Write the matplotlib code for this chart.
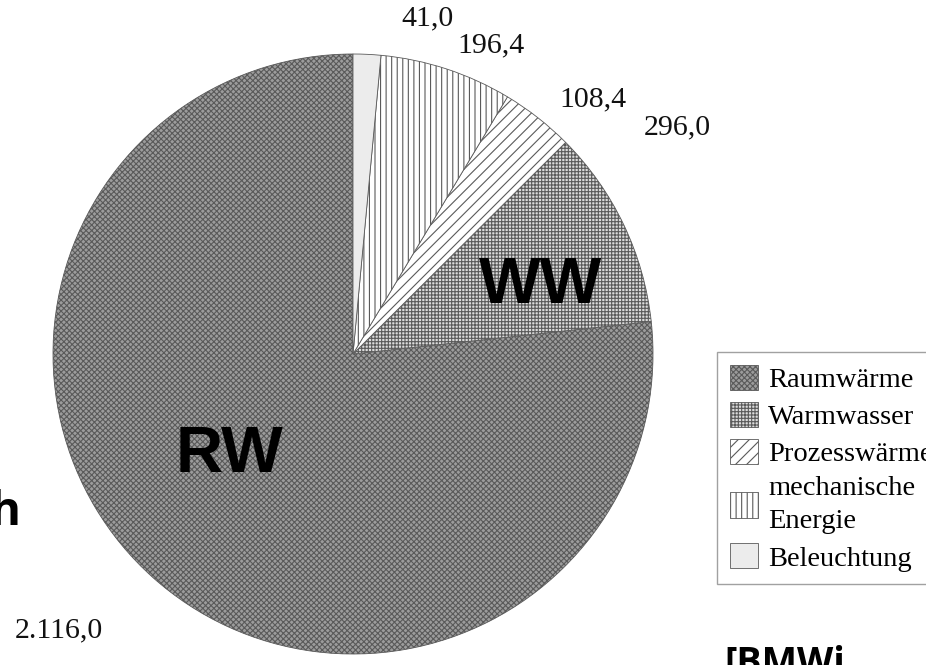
import matplotlib
matplotlib.use("Agg")
import matplotlib.pyplot as plt

# Energy use by application
categories = ["Raumwärme", "Warmwasser", "Prozesswärme", "mechanische\nEnergie", "Beleuchtung"]
values = [2116.0, 296.0, 108.4, 196.4, 41.0]
value_labels = ["2.116,0", "296,0", "108,4", "196,4", "41,0"]

# wedge styling
face_colors = ["#9c9c9c", "#dcdcdc", "#ffffff", "#ffffff", "#ececec"]
hatches = ["xxxxxx", "+++++", "///", "|||", ""]

W, H = 926, 665
cx, cy, R = 353, 354, 300  # pixel centre and radius of the pie

plt.rcParams["hatch.linewidth"] = 0.8

fig = plt.figure(figsize=(W / 100, H / 100), dpi=100)
ax = fig.add_axes([0, 0, 1, 1])

wedges, _ = ax.pie(values, startangle=90, counterclock=True, radius=1.0,
                   colors=face_colors,
                   wedgeprops=dict(edgecolor="#5a5a5a", linewidth=0.6))
for w, h in zip(wedges, hatches):
    w.set_hatch(h)

ax.set_xlim(-cx / R, (W - cx) / R)
ax.set_ylim(-(H - cy) / R, cy / R)
ax.set_aspect("equal")
ax.axis("off")

# value labels placed around the pie (data units, radius = 1)
label_pos = [(-0.98, -0.92), (1.08, 0.755), (0.80, 0.85), (0.46, 1.03), (0.25, 1.12)]
for txt, (x, y) in zip(value_labels, label_pos):
    ax.text(x, y, txt, ha="center", va="center", fontsize=21.5,
            family="Liberation Serif", color="#111111")

# abbreviations in the two largest wedges
ax.text(-0.41, -0.335, "RW", ha="center", va="center", fontsize=47,
        fontweight="bold", family="Liberation Sans", color="black")
ax.text(0.625, 0.228, "WW", ha="center", va="center", fontsize=47,
        fontweight="bold", family="Liberation Sans", color="black")

# partly visible side texts
fig.text(-0.012, 1 - 525 / H, "h", ha="left", va="baseline", fontsize=34,
         fontweight="bold", family="Open Sans", color="black")
fig.text(724 / W, 1 - 674 / H, "[BMWi", ha="left", va="baseline", fontsize=27,
         fontweight="bold", family="Open Sans", color="black")

leg = ax.legend(wedges, categories, loc="upper left",
                bbox_to_anchor=(717 / W, 1 - 352 / H), bbox_transform=fig.transFigure,
                prop=dict(family="Liberation Serif", size=20.5),
                frameon=True, fancybox=False, edgecolor="#8a8a8a",
                handlelength=1.0, handleheight=1.0, handletextpad=0.35,
                labelspacing=0.3, borderpad=0.45, borderaxespad=0)
leg.get_frame().set_linewidth(1.0)
leg.get_texts()[3].set_linespacing(1.45)

fig.savefig("out.png", dpi=100)
